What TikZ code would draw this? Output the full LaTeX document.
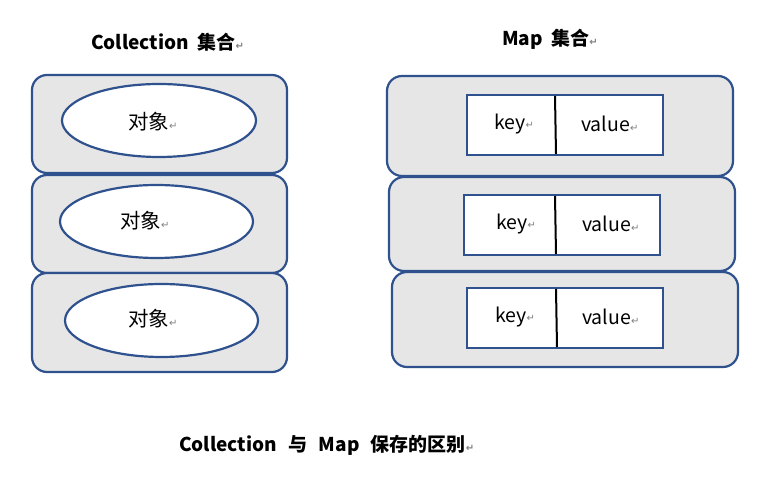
\documentclass[tikz,border=0pt]{standalone}
\usepackage{fontspec}
\setmainfont{Noto Sans CJK SC}
\newfontfamily\retfont{DejaVu Sans}
\usetikzlibrary{shapes.geometric}
\definecolor{bordblue}{HTML}{2F528F}
\definecolor{boxgray}{HTML}{E6E6E6}
\definecolor{retgray}{HTML}{808080}
\newcommand{\rmk}{{\retfont\fontsize{10}{10}\selectfont\color{retgray}\raisebox{0.5pt}{↵}}}
\tikzset{
  outerbox/.style={draw=bordblue, line width=2.2pt, fill=boxgray, rounded corners=15pt, inner sep=0pt},
  objell/.style={ellipse, draw=bordblue, line width=2.2pt, fill=white, inner sep=0pt},
  kvbox/.style={draw=bordblue, line width=2.2pt, fill=white, inner sep=0pt},
  divider/.style={draw=black, line width=2pt},
  bodytxt/.style={anchor=west, inner sep=0pt, font=\fontsize{19.5}{19.5}\selectfont},
  cjktxt/.style={anchor=west, inner sep=0pt, font=\fontsize{20.5}{20.5}\selectfont},
  titletxt/.style={anchor=base west, inner sep=0pt, font=\bfseries\fontsize{19}{19}\selectfont},
}
\begin{document}
\begin{tikzpicture}[x=1pt,y=-1pt]
\useasboundingbox (0,0) rectangle (761,502);
\fill[white] (0,0) rectangle (761,502);
% titles
\node[titletxt] (t1) at (91,50) {Collection\hspace{0.45em}集合\rmk};
\node[titletxt] (t2) at (502,46) {Map\hspace{0.45em}集合\rmk};
\node[titletxt] (t3) at (179,452) {Collection\hspace{0.6em}与\hspace{0.6em}Map\hspace{0.6em}保存的区别\rmk};
% left column
\node[outerbox, minimum width=255pt, minimum height=98pt] (L1) at (159.5,124) {};
\node[outerbox, minimum width=255pt, minimum height=98pt] (L2) at (159.5,224) {};
\node[outerbox, minimum width=255pt, minimum height=99pt] (L3) at (159.5,322.5) {};
\node[objell, minimum width=194pt, minimum height=73pt] (E1) at (159,120.5) {};
\node[objell, minimum width=193pt, minimum height=73pt] (E2) at (156.5,221.5) {};
\node[objell, minimum width=193pt, minimum height=73pt] (E3) at (161.5,320.5) {};
\node[cjktxt] (o1) at (128,122) {对象\rmk};
\node[cjktxt] (o2) at (120,221) {对象\rmk};
\node[cjktxt] (o3) at (128,319) {对象\rmk};
% right column
\node[outerbox, minimum width=346pt, minimum height=100pt] (R1) at (560,126) {};
\node[outerbox, minimum width=346pt, minimum height=94pt] (R2) at (562,224) {};
\node[outerbox, minimum width=346pt, minimum height=95pt] (R3) at (565,319.5) {};
\node[kvbox, minimum width=196pt, minimum height=60pt] (K1) at (565,125) {};
\node[kvbox, minimum width=196pt, minimum height=60pt] (K2) at (562,225) {};
\node[kvbox, minimum width=196pt, minimum height=60pt] (K3) at (565,318) {};
\draw[divider] (555,96) -- (556,154);
\draw[divider] (555,196) -- (556,254);
\draw[divider] (556,289) -- (557,347);
\node[bodytxt] (k1) at (494,124) {key\rmk};
\node[bodytxt] (v1) at (581,124) {value\rmk};
\node[bodytxt] (k2) at (496,224) {key\rmk};
\node[bodytxt] (v2) at (582,224) {value\rmk};
\node[bodytxt] (k3) at (495,317) {key\rmk};
\node[bodytxt] (v3) at (582,317) {value\rmk};
\end{tikzpicture}
\end{document}
